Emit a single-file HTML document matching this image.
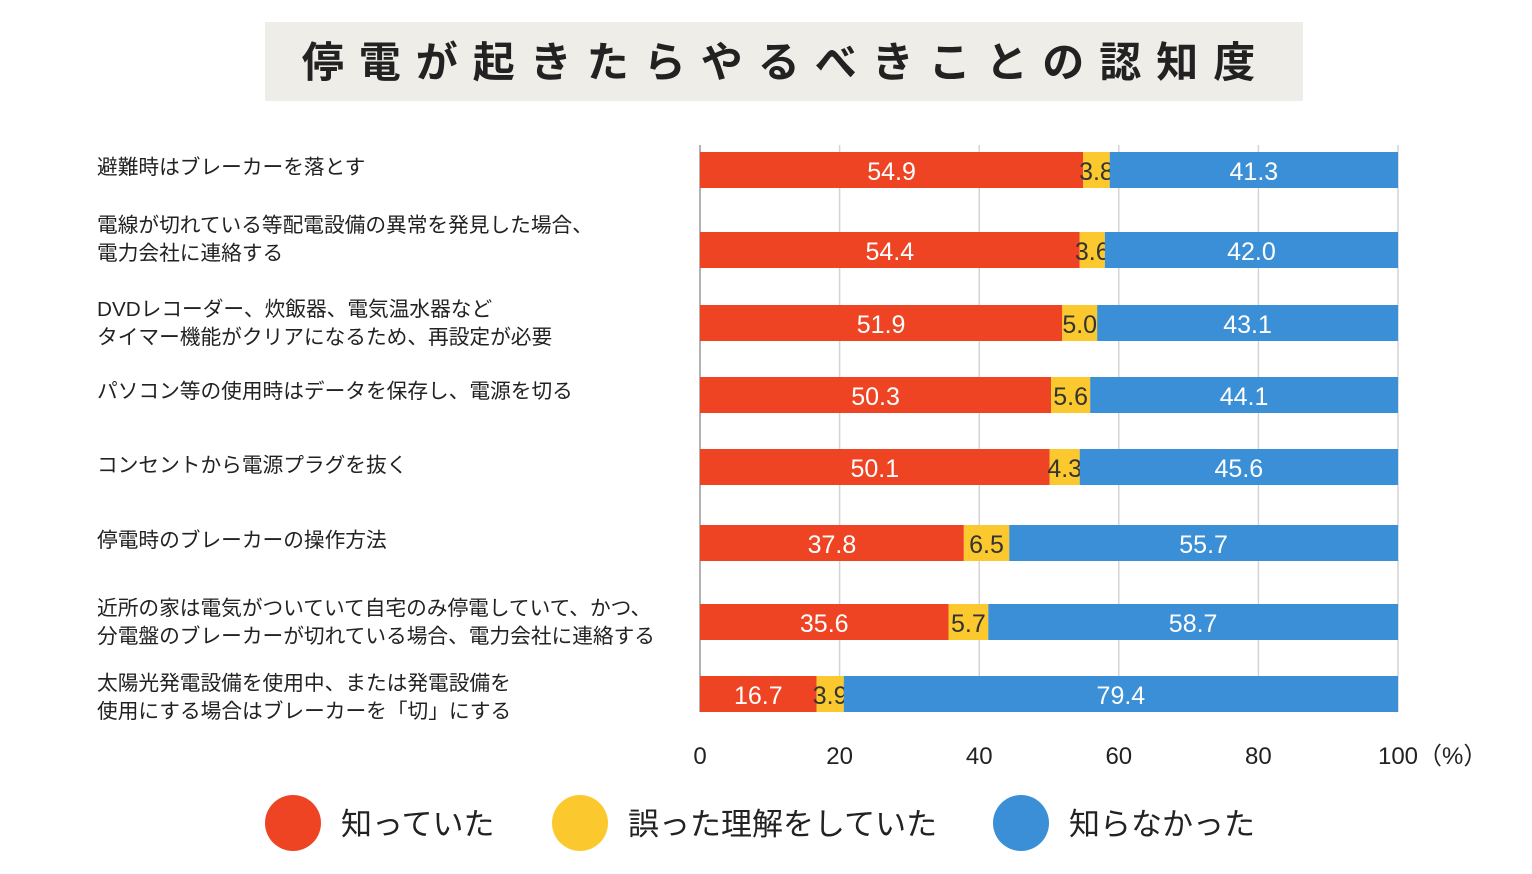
<!DOCTYPE html>
<html><head><meta charset="utf-8">
<style>
body{margin:0;width:1532px;height:869px;background:#fff;overflow:hidden;font-family:"Liberation Sans","Noto Sans CJK JP",sans-serif;}
</style></head>
<body>
<svg id="chart" width="1532" height="869" xmlns="http://www.w3.org/2000/svg" font-family="Liberation Sans, Noto Sans CJK JP, sans-serif">
<rect x="265" y="22" width="1038" height="79" fill="#eeede8"/>
<text x="786" y="77" text-anchor="middle" font-size="42" font-weight="bold" letter-spacing="15" fill="#222">停電が起きたらやるべきことの認知度</text>
<g id="grid"></g>
<g id="bars"></g>
<g id="labels"></g>
<g id="legend"></g>
</svg>
<script>
const categories=[
["避難時はブレーカーを落とす"],
["電線が切れている等配電設備の異常を発見した場合、","電力会社に連絡する"],
["DVDレコーダー、炊飯器、電気温水器など","タイマー機能がクリアになるため、再設定が必要"],
["パソコン等の使用時はデータを保存し、電源を切る"],
["コンセントから電源プラグを抜く"],
["停電時のブレーカーの操作方法"],
["近所の家は電気がついていて自宅のみ停電していて、かつ、","分電盤のブレーカーが切れている場合、電力会社に連絡する"],
["太陽光発電設備を使用中、または発電設備を","使用にする場合はブレーカーを「切」にする"]];
const knew=[54.9,54.4,51.9,50.3,50.1,37.8,35.6,16.7];
const wrong=[3.8,3.6,5.0,5.6,4.3,6.5,5.7,3.9];
const unknown=[41.3,42.0,43.1,44.1,45.6,55.7,58.7,79.4];
const ticks=[0,20,40,60,80,100];
const seriesNames=["知っていた","誤った理解をしていた","知らなかった"];

const NS="http://www.w3.org/2000/svg";
const rowY=[170,250,323,395,467,543,622,694];
const labelTop=[167,225,309,391,465,540,608,683];
const colors=["#ee4423","#fbc92d","#3a8fd6"];
const textColors=["#fff","#333","#fff"];
const x=v=>700+v*6.98;
function mk(tag,attrs,parent){const e=document.createElementNS(NS,tag);for(const k in attrs)e.setAttribute(k,attrs[k]);parent.appendChild(e);return e;}
const grid=document.getElementById('grid'),bars=document.getElementById('bars'),labels=document.getElementById('labels'),legend=document.getElementById('legend');
ticks.forEach((t,i)=>{
 const l=mk('line',{x1:x(t),x2:x(t),y1:145,y2:712,stroke:i==0?'#999':'#d4d4d4','stroke-width':1.5},grid);
 
 
 const tx=mk('text',{x:x(t),y:764,'text-anchor':'middle','font-size':24,fill:'#222'},grid);
 tx.textContent=t;
 
 
});
const pct=mk('text',{x:1418,y:764,'font-size':24,fill:'#222'},grid);pct.textContent='（%）';


const series=[knew,wrong,unknown];
categories.forEach((c,i)=>{
 let acc=0;
 series.forEach((s,j)=>{
  const v=s[i];
  const r=mk('rect',{x:x(acc),y:rowY[i]-18,width:x(acc+v)-x(acc),height:36,fill:colors[j]},bars);
  
  
  const t=mk('text',{x:(x(acc)+x(acc+v))/2,y:rowY[i]+10,'text-anchor':'middle','font-size':25,fill:textColors[j]},bars);
  t.textContent=v.toFixed(1);
  
  
  acc+=v;
 });
 c.forEach((line,k)=>{
  const t=mk('text',{x:97,y:labelTop[i]+7+k*28,'font-size':20.7,fill:'#222'},labels);
  t.textContent=line;
  
  
 });
});
const legX=[293,580,1021];
seriesNames.forEach((nm,j)=>{
 const c=mk('circle',{cx:legX[j],cy:823,r:28,fill:colors[j]},legend);
 
 
 const t=mk('text',{x:legX[j]+48,y:835,'font-size':31,fill:'#222'},legend);
 t.textContent=nm;
 
 
});
</script>
</body></html>
